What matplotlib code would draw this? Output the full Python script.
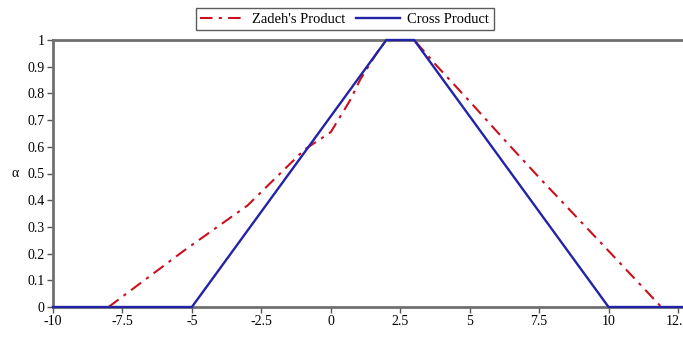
import matplotlib
matplotlib.use("Agg")
import matplotlib.pyplot as plt

# Data
cross_x = [-10, -5, 2, 3, 10, 12.7]
cross_y = [0, 0, 1, 1, 0, 0]
zadeh_x = [-8.0, -5.3, -3.0, -0.94, 0.0, 0.7, 1.05, 1.65, 2.0, 3.0, 3.8, 5.0, 6.26, 7.5, 10.0, 11.9]
zadeh_y = [0.0, 0.21, 0.38, 0.59, 0.655, 0.775, 0.85, 0.95, 1.0, 1.0, 0.905, 0.77, 0.625, 0.485, 0.21, 0.0]
xticks = [-10, -7.5, -5, -2.5, 0, 2.5, 5, 7.5, 10, 12.5]
xticklabels = ["-10", "-7.5", "-5", "-2.5", "0", "2.5", "5", "7.5", "10", "12.5"]
yticks = [0, 0.1, 0.2, 0.3, 0.4, 0.5, 0.6, 0.7, 0.8, 0.9, 1]
yticklabels = ["0", "0.1", "0.2", "0.3", "0.4", "0.5", "0.6", "0.7", "0.8", "0.9", "1"]

plt.rcParams['font.family'] = ['Liberation Serif', 'DejaVu Serif']
plt.rcParams['axes.unicode_minus'] = False

fig = plt.figure(figsize=(6.83, 3.37), dpi=100)
ax = fig.add_axes([53/683, 1 - 307/337, 1 - 53/683, (307 - 40)/337])

red = "#c8101e"
blue = "#2323a6"
ax.plot(zadeh_x, zadeh_y, color=red, lw=1.5, linestyle=(0, (6, 3, 1.5, 3)), label="Zadeh's Product", zorder=3)
ax.plot(cross_x, cross_y, color=blue, lw=1.7, label="Cross Product", zorder=4, clip_on=False)

ax.set_xlim(-10, 12.68)
ax.set_ylim(0, 1)
ax.set_xticks(xticks)
ax.set_xticklabels(xticklabels)
ax.set_yticks(yticks)
ax.set_yticklabels(yticklabels)
ax.tick_params(axis='both', labelsize=10, direction='out', length=4, width=1, color='#555555', pad=2)

for s in ['left', 'bottom', 'top']:
    ax.spines[s].set_color('#707070')
    ax.spines[s].set_linewidth(2)
ax.spines['right'].set_visible(False)

ax.set_ylabel("\u03b1", fontsize=10, rotation=0, labelpad=2, va='center')
ax.yaxis.set_label_coords(-0.06, 0.5)
ax.set_xlabel("x", fontsize=10)
ax.xaxis.set_label_coords(0.51, -0.115)

fig.legend(loc='upper center', bbox_to_anchor=(0.505, 0.975), ncol=2, frameon=True,
           fancybox=False, edgecolor='#333333', fontsize=10.5, handlelength=3,
           columnspacing=0.8, handletextpad=0.5, borderpad=0.3, borderaxespad=0)

fig.savefig("out.png", dpi=100)
